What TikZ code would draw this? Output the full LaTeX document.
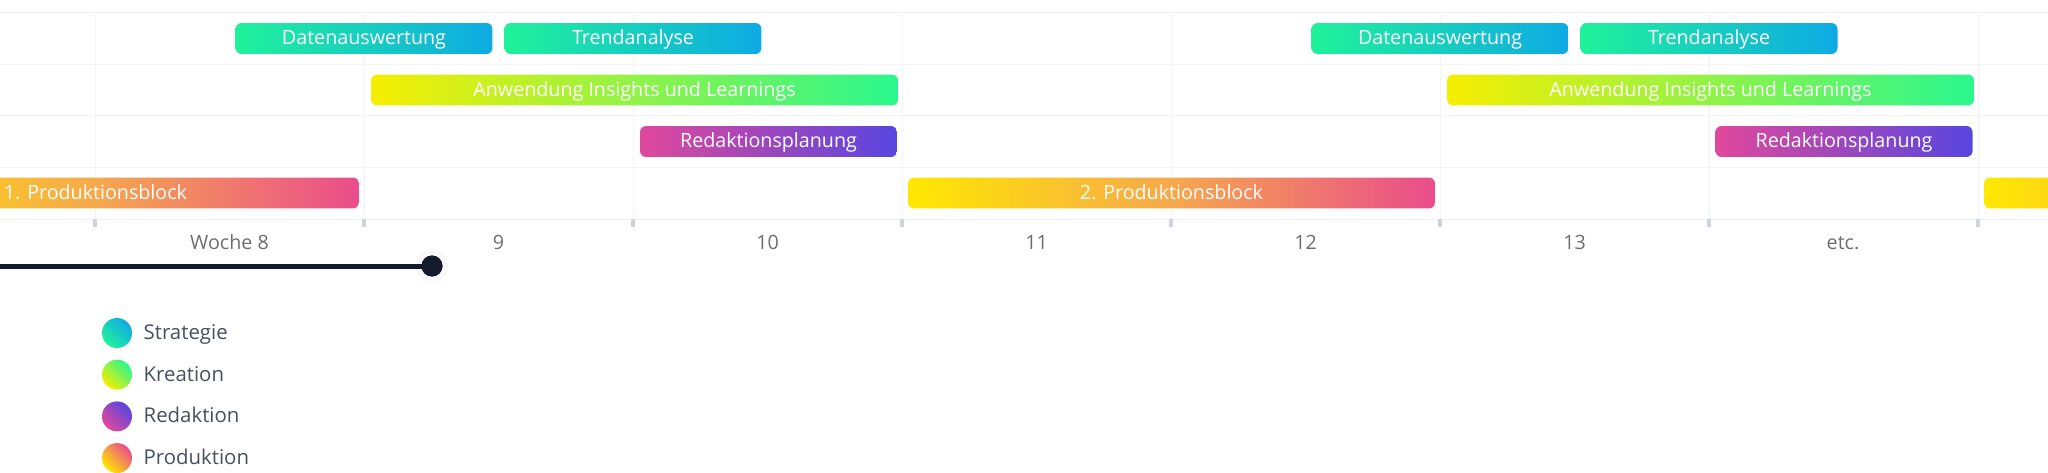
\documentclass[tikz,border=0pt]{standalone}
\usepackage{fontspec}
\setmainfont{Open Sans}
\usepackage{tikz}
\usetikzlibrary{positioning}

\definecolor{stratA}{HTML}{1FF29A}
\definecolor{stratB}{HTML}{0EAAE4}
\definecolor{kreaA}{HTML}{F7EE00}
\definecolor{kreaB}{HTML}{2AF78E}
\definecolor{redA}{HTML}{E0489C}
\definecolor{redB}{HTML}{5846E0}
\definecolor{prodA}{HTML}{FFE800}
\definecolor{prodM}{HTML}{F6A84C}
\definecolor{prodB}{HTML}{EA4C8C}
\definecolor{gridcol}{HTML}{F3F4F9}
\definecolor{tickcol}{HTML}{CDD4E0}
\definecolor{weekgray}{HTML}{6E6E6E}
\definecolor{legendtxt}{HTML}{46505F}
\definecolor{navy}{HTML}{131A2C}

\begin{document}
\begin{tikzpicture}[x=0.02cm, y=-0.02cm,
        bar/.style={rectangle, rounded corners=0.12cm, minimum height=0.62cm, inner sep=0pt, text=white, text height=0.72em, text depth=0pt, font=\fontsize{11.2}{13}\selectfont},
        onewk/.style={minimum width=5.14cm},
        twowk/.style={minimum width=10.54cm},
        strat/.style={bar, left color=stratA, right color=stratB},
        krea/.style={bar, left color=kreaA, right color=kreaB},
        redak/.style={bar, left color=redA, right color=redB},
        prod/.style={bar, left color=prodA, right color=prodB, middle color=prodM},
        weeklbl/.style={text=weekgray, inner sep=0pt, text height=0.72em, text depth=0pt, font=\fontsize{11.2}{13}\selectfont},
        legdot/.style 2 args={circle, minimum size=0.6cm, inner sep=0pt, bottom color=#1, top color=#2, shading angle=-45},
        leglbl/.style={text=legendtxt, inner sep=0pt, text height=0.72em, text depth=0pt, font=\fontsize{11.6}{14}\selectfont}]

    \useasboundingbox (0,0) rectangle (2048,473);
    \clip (0,0) rectangle (2048,473);

    % grid and axis
    \draw[gridcol, line width=0.5pt] (0,12) -- (2048,12);
    \foreach \y in {64,115,167,219}
        \draw[gridcol, line width=0.5pt] (0,\y) -- (2048,\y);
    \foreach \k in {0,...,7} {
        \draw[gridcol, line width=0.5pt] ({95+269*\k},12) -- ({95+269*\k},219);
        \draw[tickcol, line width=0.07cm] ({95+269*\k},219) -- ({95+269*\k},227);
    }

    % Strategie
    \node[strat, onewk] (da1) at (364,38.5) {Datenauswertung};
    \node[strat, onewk] (tr1) at (633,38.5) {Trendanalyse};
    \node[strat, onewk] (da2) at (1440,38.5) {Datenauswertung};
    \node[strat, onewk] (tr2) at (1709,38.5) {Trendanalyse};

    % Kreation
    \node[krea, twowk] (anw1) at (634.5,90) {Anwendung Insights und Learnings};
    \node[krea, twowk] (anw2) at (1710.5,90) {Anwendung Insights und Learnings};

    % Redaktion
    \node[redak, onewk] (red1) at (768.5,141.5) {Redaktionsplanung};
    \node[redak, onewk] (red2) at (1844,141.5) {Redaktionsplanung};

    % Produktion
    \node[prod, twowk] (prod1) at (95.5,193) {1. Produktionsblock};
    \node[prod, twowk] (prod2) at (1171.5,193) {2. Produktionsblock};
    \node[prod, twowk] (prod3) at (2247.5,193) {};

    % weeks
    \node[weeklbl] (w8) at (229.5,243) {Woche 8};
    \foreach \n [count=\i] in {9,...,13}
        \node[weeklbl] (w\n) at ({229.5+269*\i},243) {\n};
    \node[weeklbl] (wetc) at (1843,243) {etc.};

    % slider
    \coordinate (sstart) at (0,266);
    \fill[gridcol!60] (432,266) circle (16);
    \node[circle, fill=navy, minimum size=0.42cm, inner sep=0pt] (knob) at (432,266) {};
    \draw[navy, line width=0.1cm] (sstart) -- (knob.center);
    \fill[navy] (knob) circle (10.5);

    % legend
    \node[legdot={stratA}{stratB}] (lstrat) at (117,333) {};
    \node[legdot={kreaA}{kreaB}, below=0.22cm of lstrat] (lkrea) {};
    \node[legdot={redA}{redB}, below=0.22cm of lkrea] (lred) {};
    \node[legdot={prodA}{prodB}, below=0.22cm of lred] (lprod) {};
    \node[leglbl, right=0.22cm of lstrat] (tstrat) {Strategie};
    \node[leglbl, right=0.22cm of lkrea] (tkrea) {Kreation};
    \node[leglbl, right=0.22cm of lred] (tred) {Redaktion};
    \node[leglbl, right=0.22cm of lprod] (tprod) {Produktion};
\end{tikzpicture}
\end{document}
